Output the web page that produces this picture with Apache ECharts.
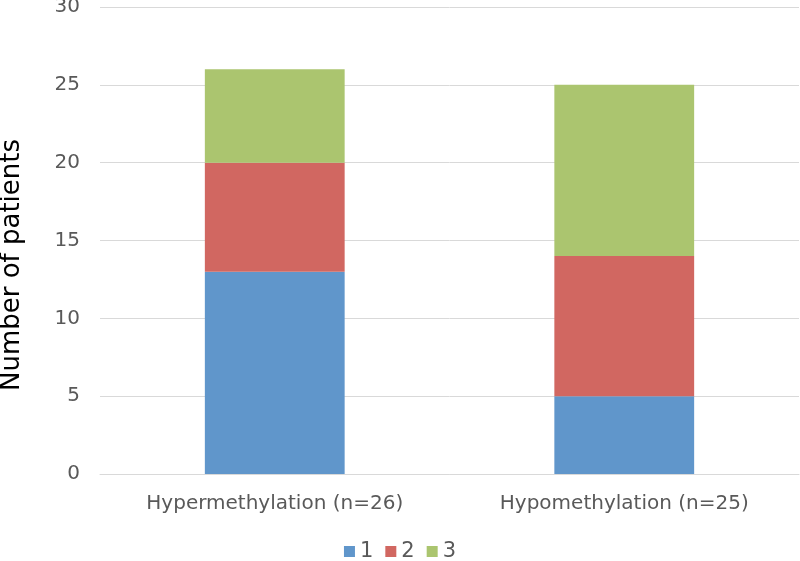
<!DOCTYPE html>
<html>
<head>
<meta charset="utf-8">
<script src="https://cdn.jsdelivr.net/npm/echarts@6/dist/echarts.min.js"></script>
<style>html,body{margin:0;padding:0;background:#fff}#c{width:800px;height:561px}</style>
</head>
<body>
<div id="c"></div>
<script>
const categories = ['Hypermethylation (n=26)', 'Hypomethylation (n=25)'];
const series1 = [13, 5];
const series2 = [7, 9];
const series3 = [6, 11];
const seriesNames = ['1', '2', '3'];
const yTitle = 'Number of patients';
const colors = ['#6096CB', '#D16761', '#ABC56F'];

const FONT = 'DejaVu Sans, sans-serif';
const chart = echarts.init(document.getElementById('c'));
const data = [series1, series2, series3];
chart.setOption({
  animation: false,
  textStyle: { fontFamily: FONT },
  grid: { left: 100, right: 1, top: 7, bottom: 87, containLabel: false, outerBoundsMode: 'none' },
  legend: {
    top: 536,
    left: 'center',
    itemWidth: 11,
    itemHeight: 11,
    itemGap: 12,
    icon: 'rect',
    textStyle: { fontSize: 21, color: '#595959', fontFamily: FONT },
    data: seriesNames
  },
  graphic: [{
    type: 'text',
    x: 12,
    y: 265,
    rotation: Math.PI / 2,
    style: {
      text: yTitle,
      font: '26px ' + FONT,
      fill: '#000',
      align: 'center',
      verticalAlign: 'middle'
    }
  }],
  xAxis: {
    type: 'category',
    data: categories,
    axisLine: { show: true, lineStyle: { color: '#D9D9D9' } },
    axisTick: { show: false },
    axisLabel: { fontSize: 20, color: '#595959', margin: 20, fontFamily: FONT }
  },
  yAxis: {
    type: 'value',
    min: 0, max: 30, interval: 5,
    axisLine: { show: false },
    axisTick: { show: false },
    axisLabel: { fontSize: 20, color: '#595959', margin: 20, fontFamily: FONT, padding: [5, 0, 0, 0] },
    splitLine: { lineStyle: { color: '#D9D9D9', width: 1 } }
  },
  series: data.map((d, i) => ({
    name: seriesNames[i],
    type: 'bar',
    stack: 'total',
    barWidth: '40%',
    itemStyle: { color: colors[i] },
    data: d
  }))
});
</script>
</body>
</html>
